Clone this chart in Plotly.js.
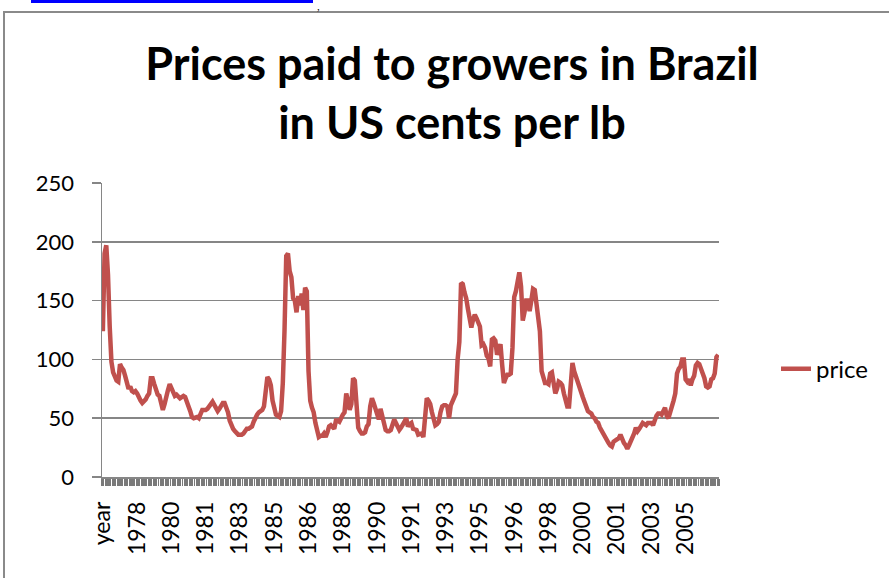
<!DOCTYPE html>
<html>
<head>
<meta charset="utf-8">
<script src="https://cdn.plot.ly/plotly-3.0.1.min.js"></script>
<style>
html,body{margin:0;padding:0;background:#fff;overflow:hidden;width:891px;height:578px;}
#wrap{position:relative;width:891px;height:578px;overflow:hidden;}
#chart{position:absolute;left:0;top:0;width:891px;height:578px;}
#frameL{position:absolute;left:3px;top:11px;width:2px;height:567px;background:#8a8a8a;pointer-events:none;}
#frameT{position:absolute;left:3px;top:11px;width:886px;height:2px;background:#8a8a8a;pointer-events:none;}
#link{position:absolute;left:31px;top:0;width:282px;height:3px;background:#0000ff;}
#comma{position:absolute;left:317px;top:1px;font-family:'Liberation Serif',serif;font-size:11px;line-height:11px;color:#000;}
</style>
</head>
<body>
<div id="wrap">
  <div id="chart"></div>
  <div id="frameL"></div>
  <div id="frameT"></div>
  <div id="link"></div>
  <div id="comma">,</div>
</div>
<script>
// Tick labels shown on the category axis (every 20th category)
const tickLabels = ["year","1978","1980","1981","1983","1985","1986","1988","1990","1991",
                    "1993","1995","1996","1998","2000","2001","2003","2005"];
const tickIndex  = [0,20,40,60,80,100,120,140,160,180,200,220,240,260,280,300,320,340];

// Monthly price paid to growers (US cents per lb)
const price = [
  124,190,197,172,128,98,89,85,82,81,96,93,91,86,78,75,77,73,72,73,
  71,67,65,63,64,66,69,71,84,84,79,74,70,69,62,57,62,70,74,79,
  76,71,69,70,68,67,68,69,68,65,60,56,51,50,51,51,50,55,57,57,
  57,58,61,62,64,61,59,56,58,60,63,63,60,55,48,44,41,39,37,36,
  36,36,37,40,41,41,42,43,47,51,53,55,56,57,60,76,85,83,78,65,
  58,53,52,51,56,80,125,188,190,175,170,152,150,140,154,146,156,142,161,158,
  90,65,59,55,46,38,34,35,35,37,34,38,43,44,43,41,48,48,47,51,
  53,55,71,65,57,62,84,82,66,42,39,37,37,38,43,45,60,67,63,57,
  51,49,58,53,45,40,39,39,40,45,49,46,43,40,42,44,47,50,43,45,
  46,41,40,40,36,37,37,34,55,67,65,62,55,50,44,45,47,55,60,61,
  61,60,50,61,64,67,71,100,115,165,164,157,152,143,132,127,134,138,135,130,
  128,112,113,110,103,101,94,117,118,116,104,108,113,95,80,84,87,87,88,110,
  153,158,168,174,162,133,140,150,150,141,150,160,159,145,138,124,90,83,80,80,
  79,88,89,80,71,75,81,80,78,71,63,60,60,82,97,90,85,83,77,71,
  68,64,60,56,55,54,51,50,47,46,42,39,38,35,32,29,27,26,30,31,
  31,33,36,32,29,27,24,27,30,34,37,42,39,41,44,46,45,44,46,46,
  46,44,49,52,54,54,53,56,59,52,50,55,59,65,71,88,92,94,100,100,
  83,81,83,78,83,86,95,97,96,90,88,84,77,76,77,83,84,88,102,104
];
const seriesName = "price";
const yTicks = [0,50,100,150,200,250];

const xIdx = price.map((_, i) => i);
const grey = '#868686';

const trace = {
  type: 'scatter', mode: 'lines',
  x: xIdx, y: price, name: seriesName,
  line: {color: '#C0504D', width: 4.5}
};

const layout = {
  width: 891, height: 578,
  margin: {l: 102, r: 172, t: 183, b: 101, pad: 0},
  paper_bgcolor: '#ffffff', plot_bgcolor: '#ffffff',
  font: {family: 'Lato, sans-serif', color: '#000'},
  title: {
    text: 'Prices paid to growers in Brazil<br>in US cents per lb',
    font: {family: 'Lato, sans-serif', size: 45, weight: 'bold', color: '#000'},
    xref: 'container', x: 452/891, xanchor: 'center',
    yref: 'container', y: 1 - 80/578, yanchor: 'top'
  },
  xaxis: {
    range: [-0.5, price.length - 0.5],
    tickmode: 'array', tickvals: tickIndex, ticktext: tickLabels,
    tickangle: -90, ticks: '', showgrid: false, zeroline: false,
    showline: true, linecolor: grey, linewidth: 1.5,
    tickfont: {family: 'Lato, sans-serif', size: 23, color: '#000'},
    ticklabelstandoff: 14,
    minor: {ticks: 'outside', ticklen: 7, tickcolor: '#7a7a7a', tickwidth: 1.3,
            tickmode: 'linear', tick0: -0.5, dtick: 1, showgrid: false},
    fixedrange: true
  },
  yaxis: {
    range: [0, 250], tickmode: 'array', tickvals: yTicks,
    ticks: 'outside', ticklen: 9, tickcolor: grey, tickwidth: 1.5,
    showgrid: true, gridcolor: grey, gridwidth: 1.5, zeroline: false,
    showline: true, linecolor: grey, linewidth: 1.5,
    tickfont: {family: 'Lato, sans-serif', size: 22, color: '#000'},
    ticklabelstandoff: 13,
    fixedrange: true
  },
  showlegend: true,
  legend: {
    x: (776 - 102) / 617, xanchor: 'left',
    y: (476.7 - 369) / 293.4, yanchor: 'middle',
    bgcolor: 'rgba(0,0,0,0)', borderwidth: 0,
    font: {family: 'Lato, sans-serif', size: 24, color: '#000'}
  }
};

Plotly.newPlot('chart', [trace], layout, {staticPlot: true, displayModeBar: false});
</script>
</body>
</html>
